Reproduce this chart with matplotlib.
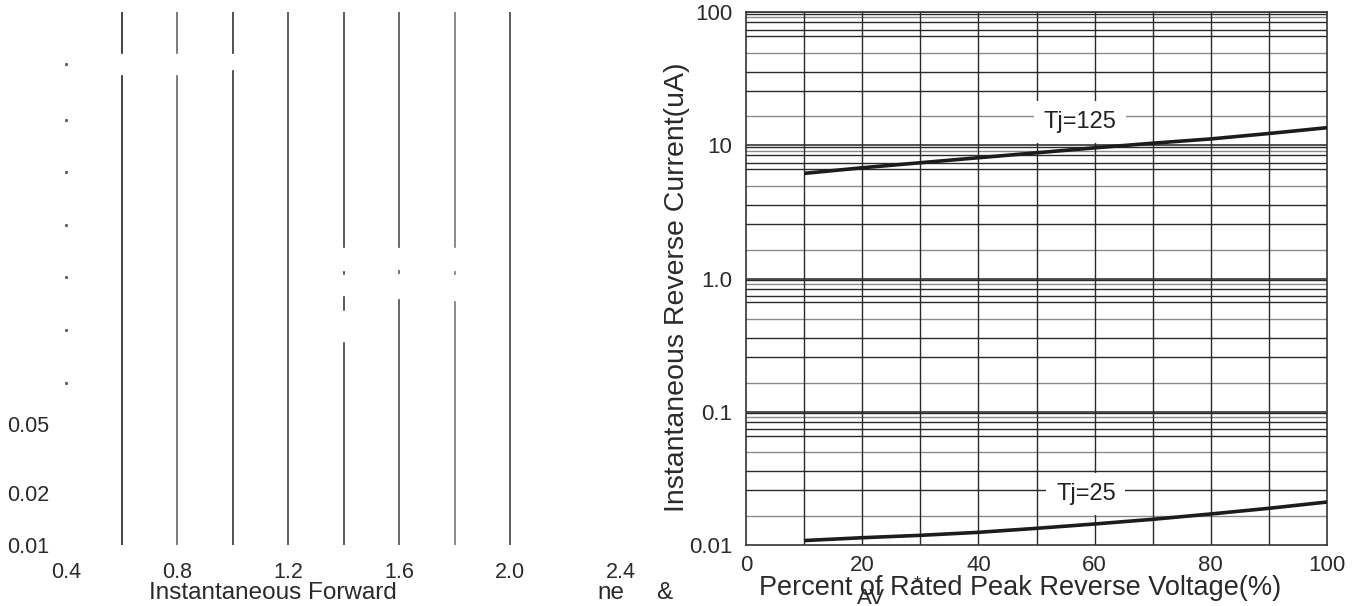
import matplotlib.pyplot as plt

# right panel: reverse leakage vs percent of rated voltage
pct = [10, 20, 30, 40, 50, 60, 70, 80, 90, 100]
ir_125 = [6.17, 6.8, 7.42, 8.09, 8.81, 9.6, 10.4, 11.2, 12.3, 13.6]
ir_25 = [0.0108, 0.01134, 0.01182, 0.01245, 0.01334, 0.01438, 0.01559,
         0.0171, 0.01886, 0.02102]
r_xticks = [0, 20, 40, 60, 80, 100]
r_yticks = [0.01, 0.1, 1, 10, 100]
r_yticklabels = ["0.01", "0.1", "1.0", "10", "100"]

# left panel: only fragments of the forward curve chart survive
vf_lines = [0.6, 0.8, 1.0, 1.2, 1.4, 1.6, 1.8, 2.0]
l_xticks = [0.4, 0.8, 1.2, 1.6, 2.0, 2.4]
l_xticklabels = ["0.4", "0.8", "1.2", "1.6", "2.0", "2.4"]
l_yticks = [0.01, 0.02, 0.05]
l_yticklabels = ["0.01", "0.02", "0.05"]
l_dots = [6.0, 2.87, 1.43, 0.71, 0.354, 0.175, 0.086]

W, H = 1368, 606
fig = plt.figure(figsize=(W / 100, H / 100), dpi=100)


def px(x, y):
    return x / W, 1 - y / H


# ---------- left panel ----------
ax1 = fig.add_axes([66 / W, 61 / H, 555 / W, 532.7 / H])
ax1.set_xlim(0.4, 2.4)
ax1.set_yscale("log")
ax1.set_ylim(0.01, 12.0)
for s in ax1.spines.values():
    s.set_visible(False)

# visible pieces of each vertical line (axes fraction)
segs = {
    0.6: [(0, 0.880), (0.924, 1)],
    0.8: [(0, 0.880), (0.924, 1)],
    1.0: [(0, 0.890), (0.924, 1)],
    1.2: [(0, 1)],
    1.4: [(0, 0.379), (0.441, 0.466), (0.509, 0.513), (0.560, 1)],
    1.6: [(0, 0.460), (0.510, 0.514), (0.560, 1)],
    1.8: [(0, 0.457), (0.509, 0.513), (0.560, 1)],
    2.0: [(0, 1)],
}
shade = {0.6: "#222222", 0.8: "#666666", 1.0: "#333333", 1.2: "#444444",
         1.4: "#3a3f48", 1.6: "#4a4f58", 1.8: "#777777", 2.0: "#3a3f48"}
for x in vf_lines:
    for a, b in segs[x]:
        ax1.axvline(x, a, b, color=shade[x], lw=1.2)
ax1.plot([0.4] * len(l_dots), l_dots, ls="none", marker="s", ms=1.2,
         color="#666666", clip_on=False)

ax1.set_xticks(l_xticks, l_xticklabels)
ax1.set_yticks(l_yticks, l_yticklabels)
ax1.minorticks_off()
ax1.tick_params(length=0, labelsize=15.5, colors="#2a2a2a")
ax1.tick_params(axis="x", pad=12)
ax1.tick_params(axis="y", pad=12)
for t in ax1.get_xticklabels() + ax1.get_yticklabels():
    t.set_fontfamily("Liberation Sans")

# ---------- right panel ----------
ax2 = fig.add_axes([746 / W, 61 / H, 581 / W, 532.7 / H])
ax2.set_xlim(0, 100)
ax2.set_yscale("log")
ax2.set_ylim(0.01, 100)

fracs = [0.011, 0.038, 0.075, 0.13, 0.178, 0.305, 0.448, 0.59, 0.782]
light = {0.038, 0.305, 0.782}
for top in [100, 10, 1, 0.1]:
    ax2.axhline(top, color="#222222", lw=1.1, zorder=1)
    for f in fracs:
        c = "#8a8a8a" if f in light else "#2a2a2a"
        ax2.axhline(top * 10 ** (-f), color=c, lw=1.0, zorder=1)
for x in range(10, 100, 10):
    ax2.axvline(x, color="#2a2a2a", lw=1.0, zorder=1)
for s in ax2.spines.values():
    s.set_color("#333333")
    s.set_linewidth(1.2)

ax2.plot(pct, ir_125, color="#1c1c1c", lw=2.6, solid_capstyle="butt", zorder=3)
ax2.plot(pct, ir_25, color="#1c1c1c", lw=2.6, solid_capstyle="butt", zorder=3)

box = dict(facecolor="white", edgecolor="none", pad=7)
ax2.text(57.5, 15.0, "Tj=125", fontsize=17, family="Liberation Sans",
         ha="center", va="center", color="#222222", bbox=box, zorder=2)
ax2.text(58.5, 0.0241, "Tj=25", fontsize=17, family="Liberation Sans",
         ha="center", va="center", color="#222222", bbox=box, zorder=2)

ax2.set_xticks(r_xticks, [str(v) for v in r_xticks])
ax2.set_yticks(r_yticks, r_yticklabels)
ax2.minorticks_off()
ax2.tick_params(length=0, labelsize=16, colors="#2a2a2a")
ax2.tick_params(axis="x", pad=7)
ax2.tick_params(axis="y", pad=10)
for t in ax2.get_xticklabels() + ax2.get_yticklabels():
    t.set_fontfamily("Liberation Sans")

# ---------- axis titles and stray fragments ----------
fig.text(*px(273, 593), "Instantaneous Forward", fontsize=17.5,
         family="Liberation Sans", ha="center", va="center", color="#2a2a2a")
fig.text(*px(611, 593), "ne", fontsize=17.5, family="Liberation Sans",
         ha="center", va="center", color="#2a2a2a")
fig.text(*px(664, 593), "&", fontsize=17.5, family="Liberation Sans",
         ha="center", va="center", color="#2a2a2a")
fig.text(*px(1020, 588), "Percent of Rated Peak Reverse Voltage(%)",
         fontsize=19.5, family="Liberation Sans", ha="center", va="center",
         color="#2a2a2a")
fig.text(*px(871, 598), "AV", fontsize=16, family="Liberation Sans",
         ha="center", va="center", color="#2a2a2a")
fig.text(*px(917, 584), "*", fontsize=13, family="Liberation Sans",
         ha="center", va="center", color="#2a2a2a")
fig.text(*px(677, 287), "Instantaneous Reverse Current(uA)", fontsize=20.5,
         family="Liberation Sans", rotation=90, ha="center", va="center",
         color="#2a2a2a")

fig.savefig("out.png", dpi=100, facecolor="white")
